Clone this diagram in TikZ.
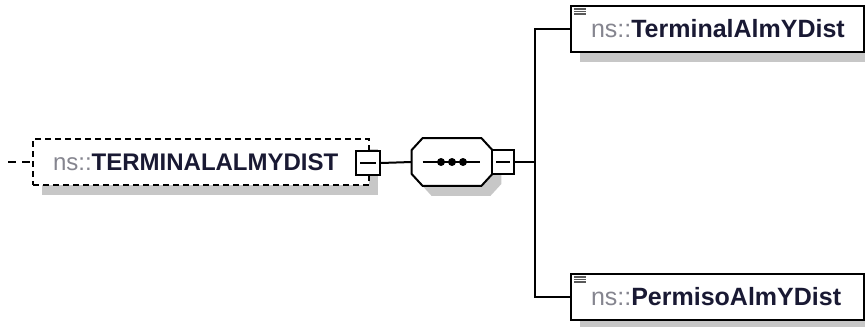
\documentclass[tikz,border=0pt]{standalone}
\usepackage{fontspec}
\setmainfont{Liberation Sans}
\usetikzlibrary{calc}
\usetikzlibrary{shadows}

\definecolor{nsgray}{rgb}{0.52,0.52,0.56}
\definecolor{namecol}{rgb}{0.10,0.10,0.20}
\definecolor{shadowgray}{rgb}{0.78,0.78,0.78}

\begin{document}
\begin{tikzpicture}[x=0.5pt, y=-0.5pt, line cap = butt, line join = miter]
\tikzstyle{shade}=[drop shadow={shadow xshift=4.5pt, shadow yshift=-5pt, fill=shadowgray, opacity=1}]
\tikzstyle{elem}=[draw=black, line width=1pt, fill=white, shade, anchor=north west, inner xsep=10pt, inner ysep=0pt, minimum height=23pt, align=left]
\tikzstyle{expander}=[draw=black, line width=0.9pt, fill=white, inner sep=0pt, minimum width=12pt, minimum height=12pt]
\tikzstyle{wire}=[line width=1pt, color=black]
\useasboundingbox (0,0) rectangle (865,326);

% global element
\node[elem, dash pattern=on 3pt off 2pt, text width=148pt, font=\fontsize{12}{14}\selectfont] (term) at (32,138)
  {\textcolor{nsgray}{ns::}\textbf{\textcolor{namecol}{TERMINALALMYDIST}}};
\coordinate (in) at (8,162);
\draw[wire, dash pattern=on 4pt off 3pt] (in) -- (term.west);
\node[expander] (expT) at (368,163) {};
\draw[wire] ($(expT.west)+(5,0)$) -- ($(expT.east)+(-5,0)$);

% sequence compositor
\node[inner sep=0pt, minimum width=40pt, minimum height=23.5pt] (seq) at (452,162) {};
\draw[wire, fill=white, shade]
  ($(seq.north west)+(11,0)$) -- ($(seq.north east)+(-11,0)$) -- ($(seq.north east)+(0,12)$)
  -- ($(seq.south east)+(0,-12)$) -- ($(seq.south east)+(-11,0)$) -- ($(seq.south west)+(11,0)$)
  -- ($(seq.south west)+(0,-12)$) -- ($(seq.north west)+(0,12)$) -- cycle;
\draw[wire] ($(seq.west)+(11,0)$) -- ($(seq.east)+(-12,0)$);
\foreach \dx in {-11,0,11}
  \fill ($(seq.center)+(\dx,0)$) circle (2pt);
\node[expander, minimum width=11pt] (expS) at (503,162) {};
\draw[wire] ($(expS.west)+(5,0)$) -- ($(expS.east)+(-5,0)$);

% child elements
\node[elem, text width=126.5pt, font=\fontsize{12.5}{14}\selectfont] (term1) at (570,5)
  {\textcolor{nsgray}{ns::}\textbf{\textcolor{namecol}{TerminalAlmYDist}}};
\node[elem, text width=126.5pt, font=\fontsize{12.5}{14}\selectfont] (perm) at (570,273)
  {\textcolor{nsgray}{ns::}\textbf{\textcolor{namecol}{PermisoAlmYDist}}};
\foreach \n in {term1,perm}
  \foreach \dy in {4,6.5,9}
    \draw[line width=0.8pt, color=black!65] ($(\n.north west)+(4,\dy)$) -- ++(12,0);

% connectors
\coordinate (fork) at (535,162);
\draw[wire] (expT.east) -- (seq.west);
\draw[wire] (expS.east) -- (fork);
\draw[wire] (term1.west) -| (fork) |- (perm.west);
\end{tikzpicture}
\end{document}
